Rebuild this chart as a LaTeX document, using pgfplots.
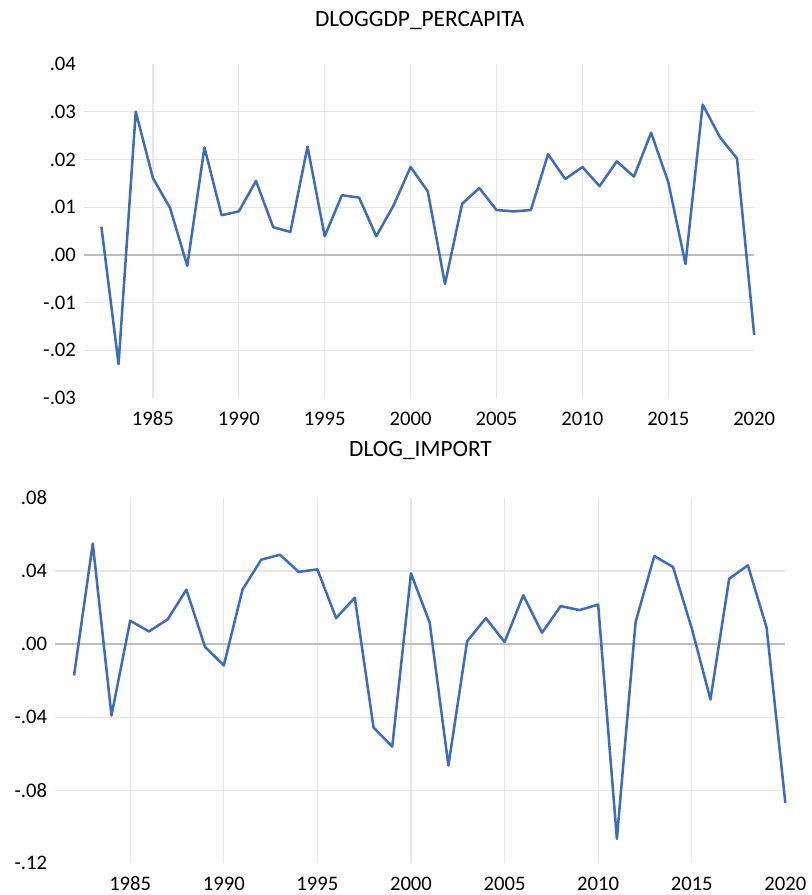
\documentclass[border=0pt]{standalone}
\usepackage{fontspec}
\setmainfont{Carlito}
\usepackage{pgfplots}
\pgfplotsset{compat=1.18}
\definecolor{lineblue}{RGB}{62,108,182}
\definecolor{gridgray}{RGB}{230,230,230}
\definecolor{zerogray}{RGB}{190,190,190}
\pgfplotsset{
  panel/.style={
    scale only axis,
    anchor=south west,
    clip=false,
    scaled ticks=false,
    xmin=1981, xmax=2020,
    axis line style={draw=none},
    tick style={draw=none},
    major tick length=0pt,
    grid=major,
    major grid style={gridgray, line width=0.9pt},
    xtick={1985,1990,1995,2000,2005,2010,2015},
    xticklabels={1985,1990,1995,2000,2005,2010,2015},
    extra x ticks={2020},
    extra x tick labels={2020},
    extra tick style={grid=none},
    tick label style={font=\fontsize{15.5}{18}\selectfont, inner sep=0pt},
    xticklabel style={anchor=north, yshift=-10pt},
    yticklabel style={anchor=east, xshift=-6pt},
  },
}
\begin{document}
\begin{tikzpicture}
\path (0pt,0pt) rectangle (609pt,671.25pt);
% top panel
\begin{axis}[panel,
  at={(63.15pt,372.75pt)}, width=502.5pt, height=250.5pt,
  ymin=-0.03, ymax=0.04,
  ytick={-0.02,-0.01,0,0.01,0.02,0.03},
  yticklabels={-.02,-.01,.00,.01,.02,.03},
  extra y ticks={-0.03,0.04},
  extra y tick labels={-.03,.04},
]
\addplot[zerogray, line width=1.3pt] coordinates {(1981,0) (2020,0)};
\addplot[lineblue, line width=1.9pt, line join=round] coordinates {
(1982,0.0059) (1983,-0.0229) (1984,0.0300) (1985,0.0161) (1986,0.0098)
(1987,-0.0023) (1988,0.0225) (1989,0.0083) (1990,0.0091) (1991,0.0155)
(1992,0.0058) (1993,0.0048) (1994,0.0227) (1995,0.0039) (1996,0.0125)
(1997,0.0120) (1998,0.0039) (1999,0.0103) (2000,0.0184) (2001,0.0133)
(2002,-0.0061) (2003,0.0107) (2004,0.0140) (2005,0.0094) (2006,0.0091)
(2007,0.0094) (2008,0.0211) (2009,0.0159) (2010,0.0184) (2011,0.0144)
(2012,0.0196) (2013,0.0164) (2014,0.0256) (2015,0.0152) (2016,-0.0019)
(2017,0.0315) (2018,0.0247) (2019,0.0202) (2020,-0.0168)
};
\end{axis}
% bottom panel
\begin{axis}[panel,
  at={(41.5pt,23.8pt)}, width=547.5pt, height=274pt,
  ymin=-0.12, ymax=0.08,
  ytick={-0.08,-0.04,0,0.04},
  yticklabels={-.08,-.04,.00,.04},
  extra y ticks={-0.12,0.08},
  extra y tick labels={-.12,.08},
]
\addplot[zerogray, line width=1.3pt] coordinates {(1981,0) (2020,0)};
\addplot[lineblue, line width=1.9pt, line join=round] coordinates {
(1982,-0.0172) (1983,0.0550) (1984,-0.0391) (1985,0.0128) (1986,0.0069)
(1987,0.0135) (1988,0.0298) (1989,-0.0016) (1990,-0.0117) (1991,0.0298)
(1992,0.0462) (1993,0.0489) (1994,0.0395) (1995,0.0409) (1996,0.0142)
(1997,0.0254) (1998,-0.0457) (1999,-0.0561) (2000,0.0387) (2001,0.0117)
(2002,-0.0665) (2003,0.0015) (2004,0.0142) (2005,0.0011) (2006,0.0267)
(2007,0.0062) (2008,0.0208) (2009,0.0186) (2010,0.0216) (2011,-0.1067)
(2012,0.0121) (2013,0.0482) (2014,0.0422) (2015,0.0086) (2016,-0.0303)
(2017,0.0358) (2018,0.0431) (2019,0.0089) (2020,-0.0869)
};
\end{axis}
\node[anchor=base, inner sep=0pt, font=\fontsize{17.5}{20}\selectfont] at (314.8pt,651.2pt) {DLOGGDP\_PERCAPITA};
\node[anchor=base, inner sep=0pt, font=\fontsize{17.5}{20}\selectfont] at (315.4pt,328.7pt) {DLOG\_IMPORT};
\end{tikzpicture}
\end{document}
